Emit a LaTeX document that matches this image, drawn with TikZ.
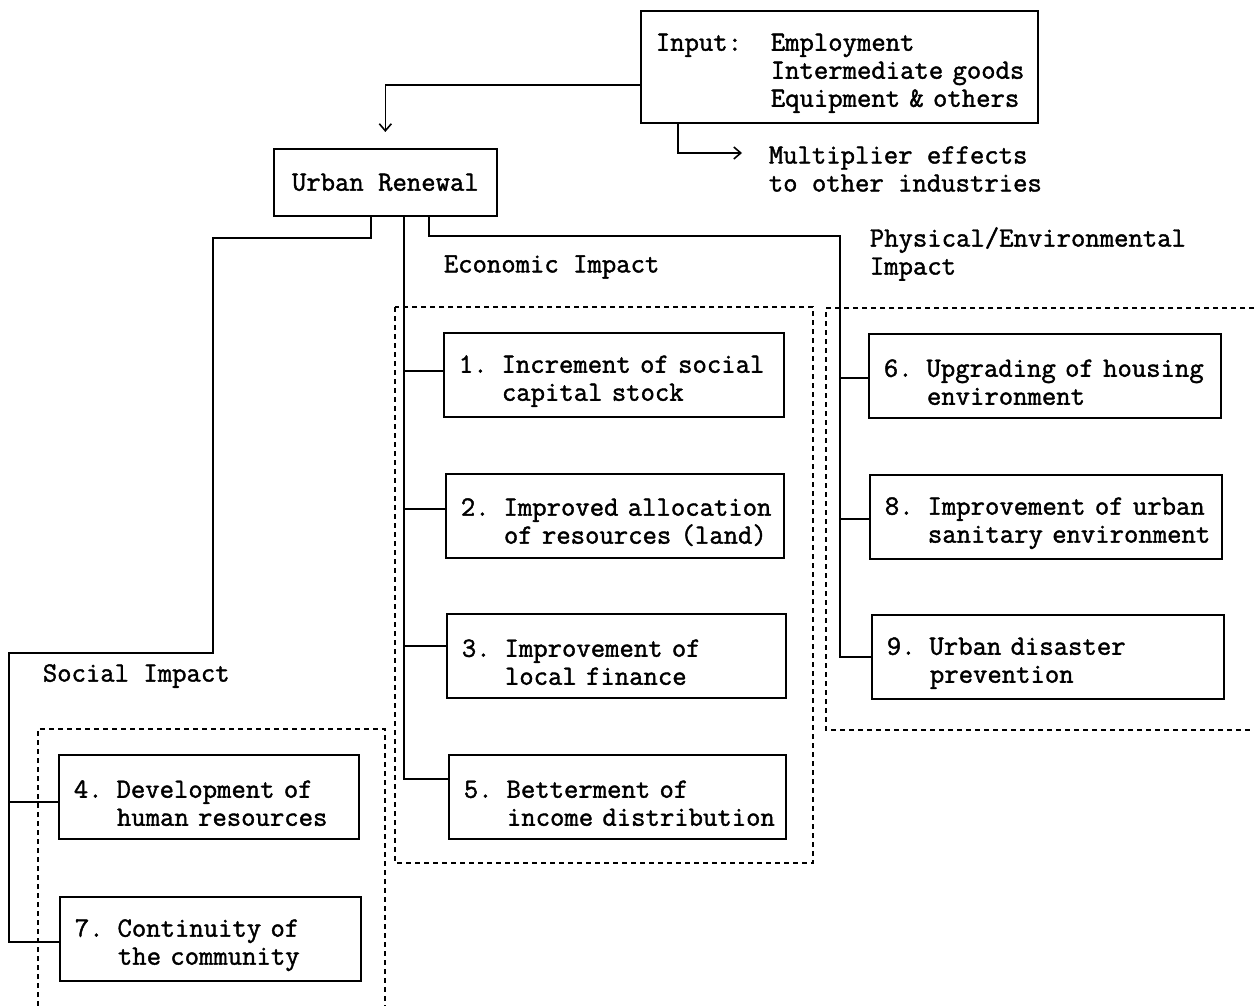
\documentclass[tikz,border=0pt]{standalone}
\usepackage{fontspec}
\setmainfont{Latin Modern Mono}[FakeBold=1.5]
\usetikzlibrary{arrows.meta}
\newcommand{\twoline}[2]{\mbox{\rule{0pt}{30pt}#1}\\\mbox{\hphantom{0.X}#2}}
\begin{document}
\begin{tikzpicture}[x=1pt,y=-1pt,
  font=\fontsize{27.9}{28}\selectfont,
  line width=1.7pt,
  ibox/.style={draw, rectangle, inner xsep=15pt, inner ysep=0pt, align=left,
    text width=#1, minimum height=84pt, anchor=north west},
  lbl/.style={inner sep=0pt, anchor=west, align=left},
  dashbox/.style={line width=1.5pt, dash pattern=on 5pt off 4pt},
  conn/.style={line width=1.7pt},
  arr/.style={conn, -{Straight Barb[length=7pt,width=12pt,line width=1.6pt]}}
]
\useasboundingbox (0,0) rectangle (1254,1006);

% top boxes
\node[draw, rectangle, inner xsep=15pt, inner ysep=0pt, align=left, text width=367pt,
  minimum height=112pt, anchor=north west] (inp) at (640,10)
  {\mbox{\rule{0pt}{30pt}Input:\hphantom{XX}Employment}\\\mbox{\hphantom{Input:XX}Intermediate goods}\\\mbox{\hphantom{Input:XX}Equipment \& others}};
\node[draw, rectangle, minimum width=223pt, minimum height=67pt, anchor=north west, inner sep=0pt]
  (ur) at (273,148) {Urban Renewal};
\node[lbl] (mult) at (768,169) {Multiplier effects\\to other industries};
\coordinate (mtip) at (742,153);

\draw[arr] ([yshift=-18pt]inp.west) -| ([yshift=16pt]ur.north);
\draw[arr] ([xshift=38pt]inp.south west) |- (mtip);

% labels
\node[lbl] (econl) at (443,267) {Economic Impact};
\node[lbl] (physl) at (869,254) {Physical/Environmental\\Impact};
\node[lbl] (socl) at (42,676) {Social Impact};

% economic boxes
\node[ibox=310pt] (b1) at (443,332) {\twoline{1. Increment of social}{capital stock}};
\node[ibox=308pt] (b2) at (445,473) {\twoline{2. Improved allocation}{of resources (land)}};
\node[ibox=309pt] (b3) at (446,613) {\twoline{3. Improvement of}{local finance}};
\node[ibox=307pt] (b5) at (448,754) {\twoline{5. Betterment of}{income distribution}};

% physical boxes
\node[ibox=322pt] (b6) at (868,333) {\twoline{6. Upgrading of housing}{environment}};
\node[ibox=322pt] (b8) at (869,474) {\twoline{8. Improvement of urban}{sanitary environment}};
\node[ibox=322pt] (b9) at (871,614) {\twoline{9. Urban disaster}{prevention}};

% social boxes
\node[ibox=270pt] (b4) at (58,754) {\twoline{4. Development of}{human resources}};
\node[ibox=271pt] (b7) at (59,896) {\twoline{7. Continuity of}{the community}};

% dashed groups
\draw[dashbox] (395,307) rectangle (813,863);
\draw[dashbox] (1254,308) -- (826,308) -- (826,730) -- (1254,730);
\draw[dashbox] (38,1006) -- (38,729) -- (385,729) -- (385,1006);

% attachment points
\coordinate (c1) at ([yshift=4pt]b1.west);
\coordinate (c2) at ([yshift=7pt]b2.west);
\coordinate (c3) at ([yshift=10pt]b3.west);
\coordinate (c5) at ([yshift=18pt]b5.west);
\coordinate (c4) at ([yshift=-5pt]b4.west);
\coordinate (c7) at ([yshift=-3pt]b7.west);
\coordinate (c6) at ([yshift=-2pt]b6.west);
\coordinate (c8) at ([yshift=-2pt]b8.west);

% connectors: social
\coordinate (s0) at ([xshift=98pt]ur.south west);
\coordinate (s1) at (213,238);
\coordinate (sv) at (9,653);
\draw[conn] (s0) |- (s1) |- (sv) |- (c7);
\draw[conn] (sv |- c4) -- (c4);

% connectors: economic
\coordinate (ev) at ([xshift=131pt]ur.south west);
\draw[conn] (ev) |- (c5);
\draw[conn] (ev |- c1) -- (c1);
\draw[conn] (ev |- c2) -- (c2);
\draw[conn] (ev |- c3) -- (c3);

% connectors: physical
\coordinate (p0) at ([xshift=156pt]ur.south west);
\coordinate (pc) at (840,236);
\draw[conn] (p0) |- (pc) |- (b9.west);
\draw[conn] (pc |- c6) -- (c6);
\draw[conn] (pc |- c8) -- (c8);
\end{tikzpicture}
\end{document}
